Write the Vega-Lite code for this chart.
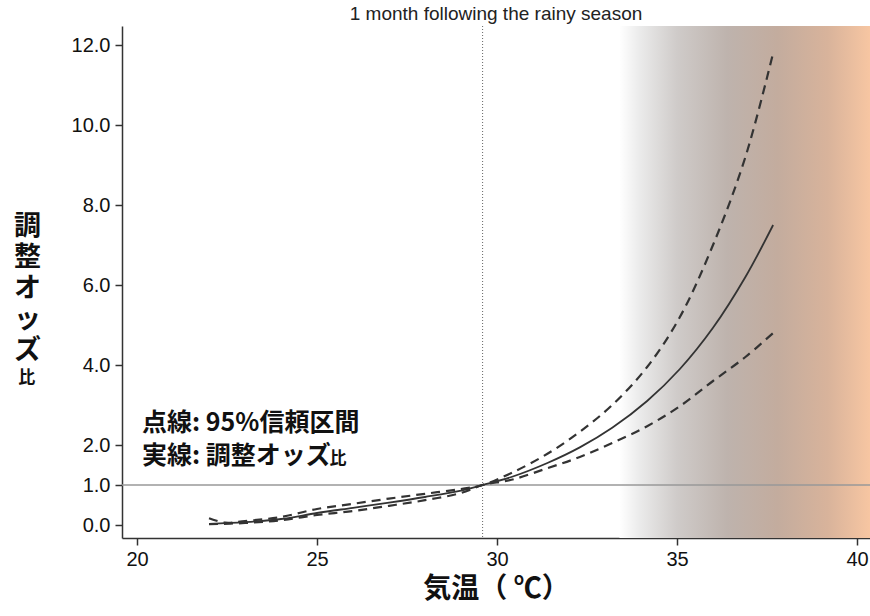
{
  "$schema": "https://vega.github.io/schema/vega-lite/v6.json",
  "width": 748,
  "height": 512,
  "autosize": {"type": "none"},
  "padding": {"left": 122, "top": 26, "right": 0, "bottom": 78},
  "background": "white",
  "title": {"text": "1 month following the rainy season", "font": "Liberation Sans", "fontSize": 19, "fontWeight": "normal", "color": "#222", "offset": 2, "anchor": "middle"},
  "config": {
    "view": {"stroke": null},
    "axis": {"grid": false, "domainColor": "#333", "tickColor": "#333", "domainWidth": 1.5, "tickWidth": 1.5, "tickSize": 7, "labelFont": "Liberation Sans", "labelFontSize": 20, "labelColor": "#111", "zindex": 1}
  },
  "datasets": {
    "curves": [
      {"t": 22, "v": 0.03, "s": "or"}, {"t": 23, "v": 0.07, "s": "or"}, {"t": 24, "v": 0.15, "s": "or"}, {"t": 25, "v": 0.3, "s": "or"}, {"t": 26, "v": 0.43, "s": "or"}, {"t": 27, "v": 0.56, "s": "or"}, {"t": 28, "v": 0.7, "s": "or"}, {"t": 29, "v": 0.86, "s": "or"}, {"t": 29.6, "v": 1.0, "s": "or"}, {"t": 30.4, "v": 1.2, "s": "or"}, {"t": 31.4, "v": 1.55, "s": "or"}, {"t": 32.3, "v": 1.94, "s": "or"}, {"t": 33.2, "v": 2.43, "s": "or"}, {"t": 34.17, "v": 3.1, "s": "or"}, {"t": 35.08, "v": 3.9, "s": "or"}, {"t": 36.0, "v": 4.93, "s": "or"}, {"t": 36.9, "v": 6.2, "s": "or"}, {"t": 37.67, "v": 7.5, "s": "or"},
      {"t": 22, "v": 0.17, "s": "upper"}, {"t": 22.45, "v": 0.06, "s": "upper"}, {"t": 23, "v": 0.1, "s": "upper"}, {"t": 24, "v": 0.2, "s": "upper"}, {"t": 25, "v": 0.4, "s": "upper"}, {"t": 26, "v": 0.53, "s": "upper"}, {"t": 27, "v": 0.66, "s": "upper"}, {"t": 28, "v": 0.78, "s": "upper"}, {"t": 29, "v": 0.9, "s": "upper"}, {"t": 29.6, "v": 1.0, "s": "upper"}, {"t": 30.4, "v": 1.3, "s": "upper"}, {"t": 31.4, "v": 1.78, "s": "upper"}, {"t": 32.3, "v": 2.33, "s": "upper"}, {"t": 33.2, "v": 3.0, "s": "upper"}, {"t": 34.17, "v": 3.95, "s": "upper"}, {"t": 35.08, "v": 5.2, "s": "upper"}, {"t": 36.0, "v": 7.0, "s": "upper"}, {"t": 36.9, "v": 9.2, "s": "upper"}, {"t": 37.67, "v": 11.8, "s": "upper"},
      {"t": 22, "v": 0.02, "s": "lower"}, {"t": 23, "v": 0.05, "s": "lower"}, {"t": 24, "v": 0.12, "s": "lower"}, {"t": 25, "v": 0.25, "s": "lower"}, {"t": 26, "v": 0.35, "s": "lower"}, {"t": 27, "v": 0.48, "s": "lower"}, {"t": 28, "v": 0.62, "s": "lower"}, {"t": 29, "v": 0.8, "s": "lower"}, {"t": 29.6, "v": 1.0, "s": "lower"}, {"t": 30.4, "v": 1.13, "s": "lower"}, {"t": 31.4, "v": 1.42, "s": "lower"}, {"t": 32.3, "v": 1.7, "s": "lower"}, {"t": 33.2, "v": 2.05, "s": "lower"}, {"t": 34.17, "v": 2.47, "s": "lower"}, {"t": 35.08, "v": 2.97, "s": "lower"}, {"t": 36.0, "v": 3.6, "s": "lower"}, {"t": 36.9, "v": 4.2, "s": "lower"}, {"t": 37.67, "v": 4.8, "s": "lower"}
    ]
  },
  "layer": [
    {
      "data": {"values": [{"start": 33.4, "end": 40.361}]},
      "mark": {"type": "rect", "fill": {"gradient": "linear", "x1": 0, "y1": 0, "x2": 1, "y2": 0, "stops": [
        {"offset": 0, "color": "#ffffff"},
        {"offset": 0.08, "color": "#ebebeb"},
        {"offset": 0.23, "color": "#cfcbc9"},
        {"offset": 0.43, "color": "#beb3ad"},
        {"offset": 0.63, "color": "#c3ac9e"},
        {"offset": 0.83, "color": "#d8b39b"},
        {"offset": 1, "color": "#f7c6a2"}
      ]}},
      "encoding": {
        "x": {"field": "start", "type": "quantitative", "scale": {"domain": [19.583, 40.361], "nice": false, "zero": false},
              "axis": {"values": [20, 25, 30, 35, 40], "labelPadding": 4, "labelFlush": false, "title": "気温（ ℃）", "titleFont": "Noto Sans CJK JP", "titleFontSize": 28, "titleFontWeight": "bold", "titleColor": "#111", "titlePadding": 6}},
        "x2": {"field": "end"},
        "y": {"datum": 12.475, "type": "quantitative", "scale": {"domain": [-0.325, 12.475], "nice": false, "zero": false},
              "axis": {"values": [0, 1, 2, 4, 6, 8, 10, 12], "format": ".1f", "labelPadding": 5,
                       "title": ["調", "整", "オ", "ッ", "ズ"], "titleAngle": 0, "titleFont": "Noto Sans CJK JP", "titleFontSize": 27, "titleFontWeight": "bold", "titleColor": "#111", "titleLineHeight": 31, "titleX": -95, "titleY": 200, "titleAlign": "center", "titleBaseline": "middle"}},
        "y2": {"datum": -0.325}
      }
    },
    {
      "data": {"values": [{"v": 1}]},
      "mark": {"type": "rule", "color": "#999", "strokeWidth": 1.5},
      "encoding": {"y": {"field": "v", "type": "quantitative"}}
    },
    {
      "data": {"values": [{"t": 29.6}]},
      "mark": {"type": "rule", "color": "#666", "strokeWidth": 1, "strokeDash": [1, 2]},
      "encoding": {"x": {"field": "t", "type": "quantitative"}}
    },
    {
      "data": {"name": "curves"},
      "transform": [{"filter": "datum.s !== 'or'"}],
      "mark": {"type": "line", "color": "#333", "strokeWidth": 2.2, "strokeDash": [9, 6], "interpolate": "catmull-rom"},
      "encoding": {
        "x": {"field": "t", "type": "quantitative"},
        "y": {"field": "v", "type": "quantitative"},
        "detail": {"field": "s"}
      }
    },
    {
      "data": {"name": "curves"},
      "transform": [{"filter": "datum.s === 'or'"}],
      "mark": {"type": "line", "color": "#333", "strokeWidth": 1.8, "interpolate": "catmull-rom"},
      "encoding": {
        "x": {"field": "t", "type": "quantitative"},
        "y": {"field": "v", "type": "quantitative"}
      }
    },
    {
      "data": {"values": [
        {"t": 20.14, "v": 2.55, "label": "点線: 95%信頼区間"},
        {"t": 20.14, "v": 1.725, "label": "実線: 調整オッズ"}
      ]},
      "mark": {"type": "text", "font": "Noto Sans CJK JP", "fontSize": 25, "fontWeight": "bold", "color": "#111", "align": "left", "baseline": "middle"},
      "encoding": {
        "x": {"field": "t", "type": "quantitative"},
        "y": {"field": "v", "type": "quantitative"},
        "text": {"field": "label"}
      }
    },
    {
      "data": {"values": [
        {"t": 25.58, "v": 1.65, "label": "比"},
        {"t": 16.94, "v": 3.675, "label": "比"}
      ]},
      "mark": {"type": "text", "font": "Noto Sans CJK JP", "fontSize": 17, "fontWeight": "bold", "color": "#111", "align": "center", "baseline": "middle"},
      "encoding": {
        "x": {"field": "t", "type": "quantitative"},
        "y": {"field": "v", "type": "quantitative"},
        "text": {"field": "label"}
      }
    }
  ]
}
